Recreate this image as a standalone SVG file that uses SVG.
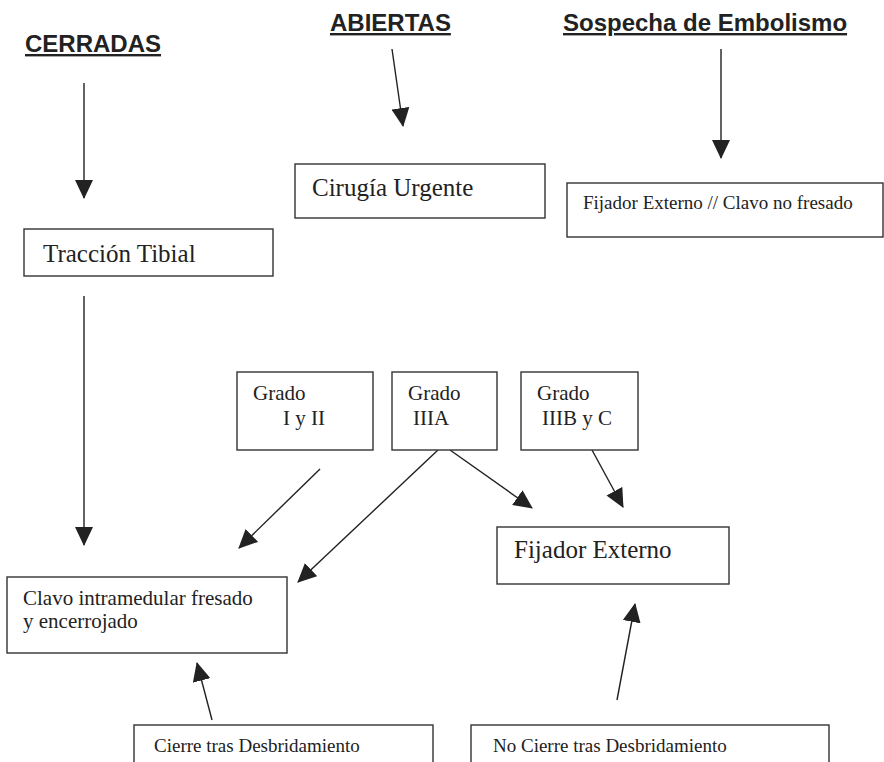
<svg xmlns="http://www.w3.org/2000/svg" width="884" height="762" viewBox="0 0 884 762">
<style>
.box{fill:#fff;stroke:#333;stroke-width:1.4}
.hd{font-family:"Liberation Sans",Arial,sans-serif;font-weight:bold;font-size:24px;fill:#222;text-decoration:underline}
.t25{font-family:"Liberation Serif","Times New Roman",serif;font-size:25px;fill:#222}
.t21{font-family:"Liberation Serif","Times New Roman",serif;font-size:21px;fill:#222}
.t19{font-family:"Liberation Serif","Times New Roman",serif;font-size:19px;fill:#222}
.c{stroke:#222;stroke-width:1.4;fill:none;marker-end:url(#ah)}
</style>
<defs>
<marker id="ah" markerUnits="userSpaceOnUse" markerWidth="19" markerHeight="18" viewBox="0 0 19 18" refX="18" refY="9" orient="auto">
<path d="M0,0 L19,9 L0,18 z" fill="#222"/>
</marker>
</defs>
<g id="headings">
<text id="cerradas" class="hd" x="25" y="52">CERRADAS</text>
<text id="abiertas" class="hd" x="330" y="31">ABIERTAS</text>
<text id="sospecha" class="hd" x="563" y="31">Sospecha de Embolismo</text>
</g>
<g id="connectors">
<line class="c" x1="84" y1="83" x2="84" y2="198"/>
<line class="c" x1="392" y1="49" x2="403" y2="126"/>
<line class="c" x1="721" y1="49" x2="721" y2="158"/>
<line class="c" x1="84" y1="296" x2="84" y2="545"/>
<line class="c" x1="320" y1="469" x2="239" y2="548"/>
<line class="c" x1="438" y1="450" x2="298" y2="582"/>
<line class="c" x1="450" y1="450" x2="532" y2="508"/>
<line class="c" x1="592" y1="450" x2="623" y2="507"/>
<line class="c" x1="212" y1="720" x2="197" y2="663"/>
<line class="c" x1="617" y1="700" x2="635" y2="604"/>
</g>
<g id="cirugia">
<rect class="box" x="295" y="164" width="250" height="54"/>
<text class="t25" x="312" y="196">Cirugía Urgente</text>
</g>
<g id="fijador-clavo">
<rect class="box" x="567" y="183" width="316" height="54"/>
<text class="t19" x="583" y="209">Fijador Externo // Clavo no fresado</text>
</g>
<g id="traccion">
<rect class="box" x="24" y="229" width="249" height="47"/>
<text class="t25" x="43" y="262">Tracción Tibial</text>
</g>
<g id="grado1">
<rect class="box" x="237" y="372" width="136" height="78"/>
<text class="t21" x="253" y="400">Grado</text>
<text class="t21" x="283" y="425">I y II</text>
</g>
<g id="grado2">
<rect class="box" x="392" y="372" width="105" height="78"/>
<text class="t21" x="408" y="400">Grado</text>
<text class="t21" x="413" y="425">IIIA</text>
</g>
<g id="grado3">
<rect class="box" x="521" y="372" width="117" height="78"/>
<text class="t21" x="537" y="400">Grado</text>
<text class="t21" x="542" y="425">IIIB y C</text>
</g>
<g id="fijador">
<rect class="box" x="497" y="527" width="232" height="57"/>
<text class="t25" x="514" y="558">Fijador Externo</text>
</g>
<g id="clavo">
<rect class="box" x="7" y="577" width="280" height="76"/>
<text class="t21" x="23" y="605">Clavo intramedular fresado</text>
<text class="t21" x="23" y="628">y encerrojado</text>
</g>
<g id="cierre">
<rect class="box" x="134" y="725" width="299" height="60"/>
<text class="t19" x="154" y="752">Cierre tras Desbridamiento</text>
</g>
<g id="no-cierre">
<rect class="box" x="471" y="725" width="358" height="60"/>
<text class="t19" x="493" y="752">No Cierre tras Desbridamiento</text>
</g>
</svg>
